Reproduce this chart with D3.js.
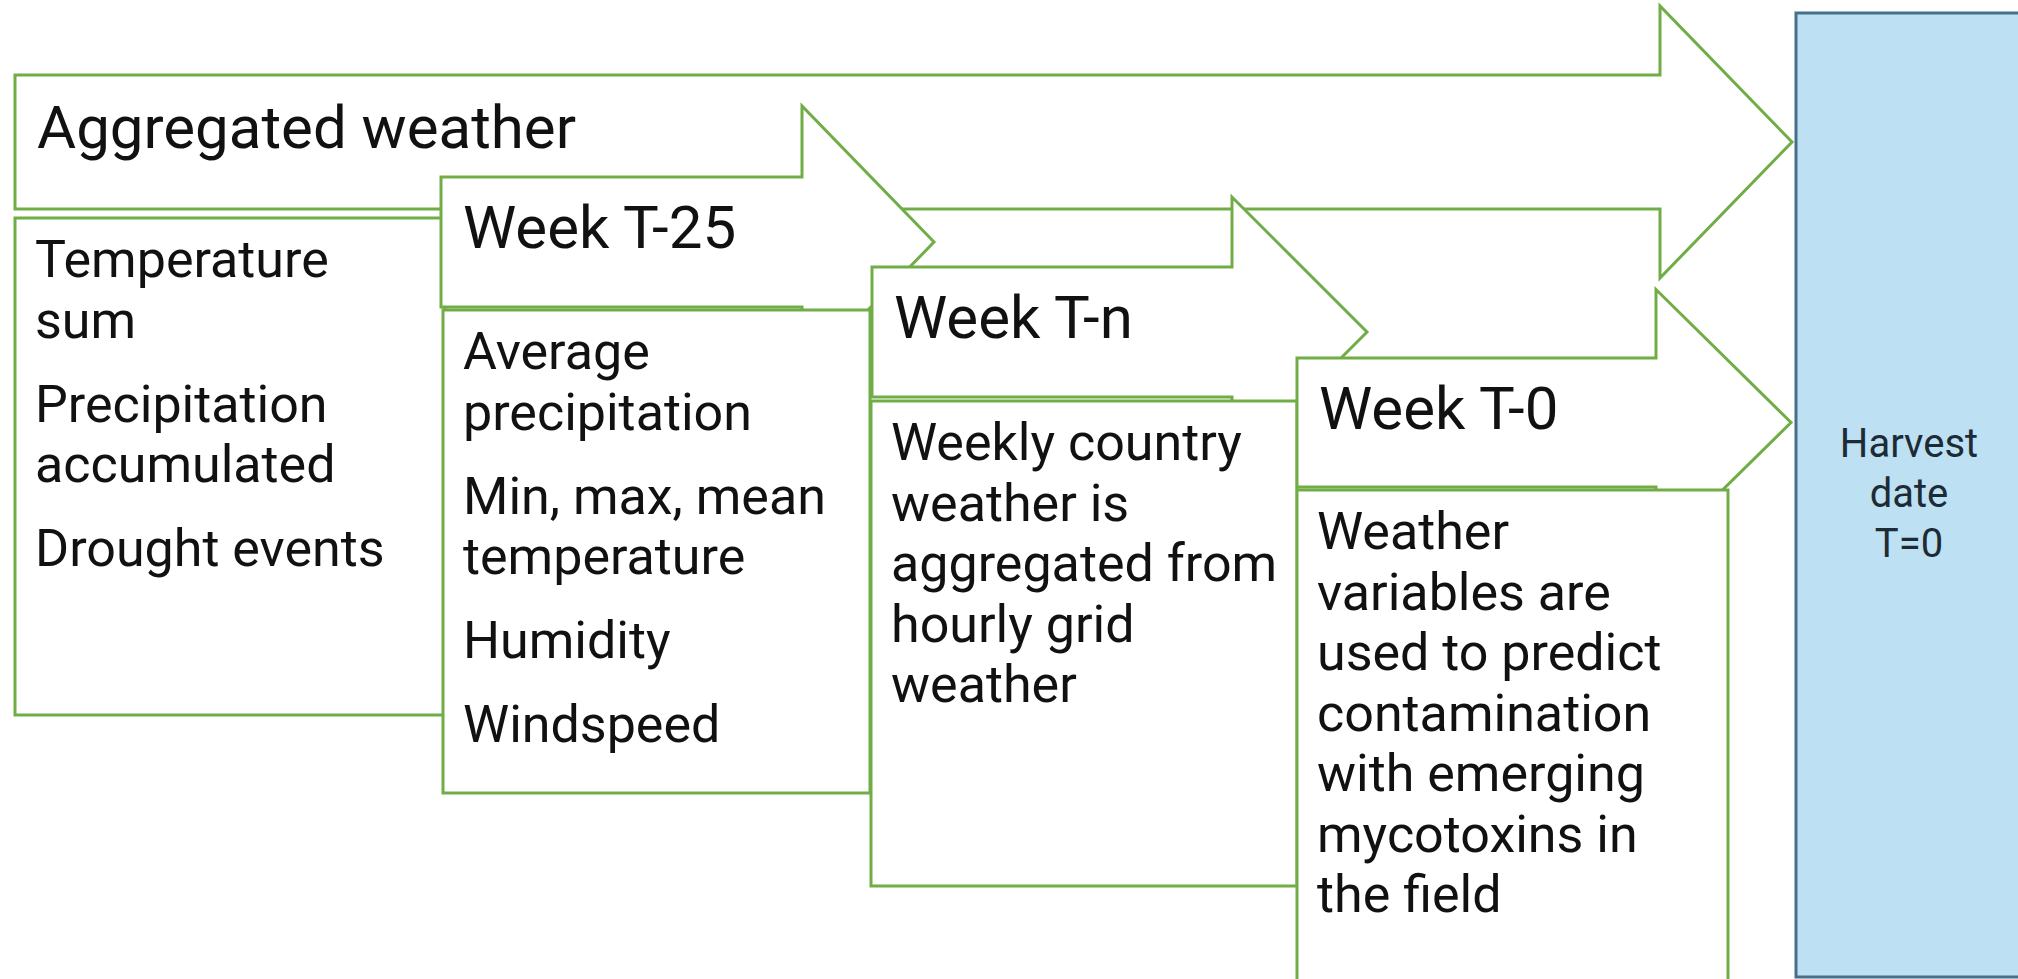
<!DOCTYPE html>
<html>
<head>
<meta charset="utf-8">
<script src="https://cdn.jsdelivr.net/npm/d3@7"></script>
<style>
  html, body { margin: 0; padding: 0; background: #fff; }
  svg { display: block; }
</style>
</head>
<body>
<div id="chart"></div>
<script>
// stage titles (one arrow each) and the text in the box under each arrow
const headings = ['Aggregated weather', 'Week T-25', 'Week T-n', 'Week T-0']
const details = [
	[['Temperature', 'sum'], ['Precipitation', 'accumulated'], ['Drought events']],
	[['Average', 'precipitation'], ['Min, max, mean', 'temperature'], ['Humidity'], ['Windspeed']],
	[['Weekly country', 'weather is', 'aggregated from', 'hourly grid', 'weather']],
	[['Weather', 'variables are', 'used to predict', 'contamination', 'with emerging', 'mycotoxins in', 'the field']]
]
const target = ['Harvest', 'date', 'T=0']

// layout
const width = 2018
const height = 979
const green = '#70ad47'

const arrowLayout = [
	{ x0: 15, y0: 75, y1: 209, shaft: 1660, tip: 1792, hh: 136 },
	{ x0: 441, y0: 177, y1: 307, shaft: 802, tip: 934, hh: 136 },
	{ x0: 872, y0: 267, y1: 397, shaft: 1232, tip: 1367, hh: 135 },
	{ x0: 1297, y0: 358, y1: 487, shaft: 1656, tip: 1791, hh: 133 }
]
const boxLayout = [
	{ x0: 15, x1: 445, y0: 218, y1: 715 },
	{ x0: 443, x1: 870, y0: 310, y1: 793 },
	{ x0: 871, x1: 1297, y0: 401, y1: 886 },
	{ x0: 1297, x1: 1728, y0: 490, y1: 1010 }
]
const harvestBox = { x0: 1796, x1: 2040, y0: 13, y1: 977 }

const lineStep = 60.5
const paraStep = 84

const svg = d3.select('#chart')
	.append('svg')
	.attr('width', width)
	.attr('height', height)
	.attr('viewBox', [0, 0, width, height])

const outline = d3.line()

function arrowPoints(a) {
	const mid = (a.y0 + a.y1) / 2
	return [
		[a.x0, a.y0], [a.shaft, a.y0], [a.shaft, mid - a.hh], [a.tip, mid],
		[a.shaft, mid + a.hh], [a.shaft, a.y1], [a.x0, a.y1]
	]
}

// arrows and boxes are drawn stage by stage so each one overlaps the previous
headings.forEach((title, i) => {
	const a = arrowLayout[i]
	const b = boxLayout[i]
	const g = svg.append('g').attr('class', 'stage')

	g.append('path')
		.attr('d', outline(arrowPoints(a)) + 'Z')
		.attr('fill', '#fff')
		.attr('stroke', green)
		.attr('stroke-width', 3)
		.attr('stroke-linejoin', 'miter')

	g.append('text')
		.attr('x', a.x0 + 22)
		.attr('y', (a.y0 + a.y1) / 2 + 6)
		.attr('font-family', 'Roboto, sans-serif')
		.attr('font-size', 60)
		.attr('fill', '#111')
		.text(title)

	g.append('rect')
		.attr('x', b.x0)
		.attr('y', b.y0)
		.attr('width', b.x1 - b.x0)
		.attr('height', b.y1 - b.y0)
		.attr('fill', '#fff')
		.attr('stroke', green)
		.attr('stroke-width', 3)

	// flatten paragraphs into positioned lines
	let y = b.y0 + 59
	const lines = []
	details[i].forEach((para, p) => {
		if (p > 0) y += paraStep - lineStep
		para.forEach(t => { lines.push({ t, y }); y += lineStep })
	})

	g.selectAll('text.detail')
		.data(lines)
		.join('text')
		.attr('class', 'detail')
		.attr('x', b.x0 + 20)
		.attr('y', d => d.y)
		.attr('font-family', 'Roboto, sans-serif')
		.attr('font-size', 52)
		.attr('fill', '#111')
		.text(d => d.t)
})

// harvest date box
svg.append('rect')
	.attr('x', harvestBox.x0)
	.attr('y', harvestBox.y0)
	.attr('width', harvestBox.x1 - harvestBox.x0)
	.attr('height', harvestBox.y1 - harvestBox.y0)
	.attr('fill', '#bde0f2')
	.attr('stroke', '#46708a')
	.attr('stroke-width', 3)

svg.selectAll('text.target')
	.data(target)
	.join('text')
	.attr('class', 'target')
	.attr('x', 1909)
	.attr('y', (d, i) => 457 + i * 50)
	.attr('text-anchor', 'middle')
	.attr('font-family', 'Roboto, sans-serif')
	.attr('font-size', 40)
	.attr('fill', '#1c2b35')
	.text(d => d)
</script>
</body>
</html>
